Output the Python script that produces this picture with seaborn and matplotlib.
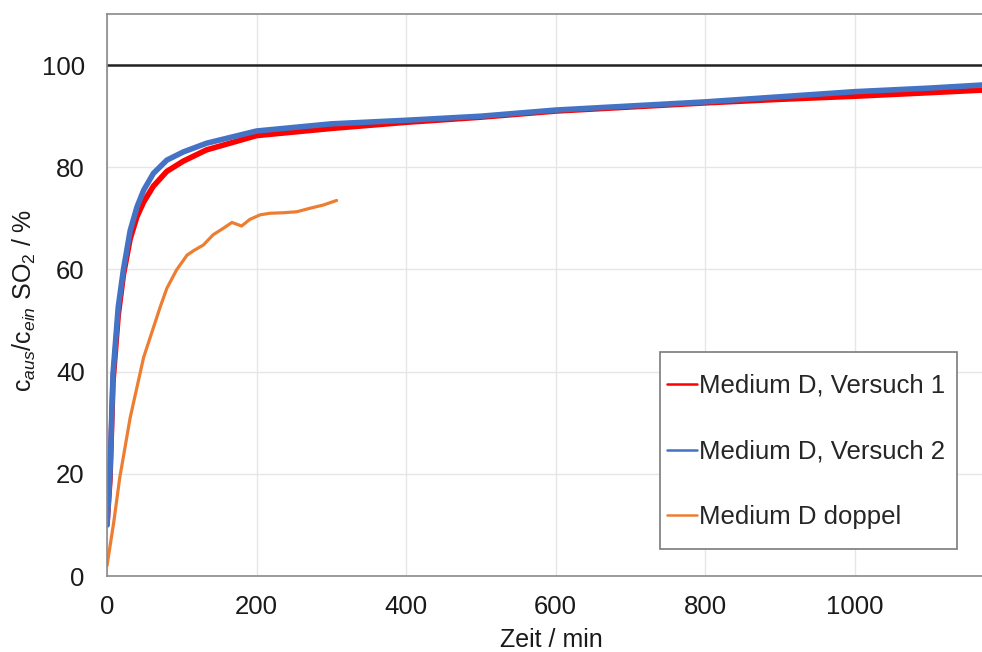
import numpy as np
import pandas as pd
import matplotlib
matplotlib.use("Agg")
import matplotlib.pyplot as plt
from matplotlib.patches import Rectangle
import seaborn as sns

# Breakthrough curves, time in min, outlet/inlet SO2 ratio in %
t_runs = [0, 4, 8, 15, 22, 31, 40, 49, 62, 80, 102, 133, 200, 300, 400,
          500, 600, 700, 800, 900, 1000, 1100, 1170]
versuch_1 = [10, 19, 38, 51, 59, 66, 70.3, 73.2, 76.3, 79.2, 81.2, 83.4, 86.2,
             87.6, 88.8, 89.8, 91.0, 91.8, 92.6, 93.3, 93.9, 94.6, 95.1]
versuch_2 = [10, 20, 39.5, 52.6, 60, 67.6, 72.2, 75.5, 78.8, 81.4, 83.0, 84.7,
             87.1, 88.5, 89.2, 90.0, 91.2, 92.0, 92.8, 93.8, 94.8, 95.5, 96.1]

t_doppel = [0, 9, 17, 31, 49, 71, 80, 93, 107, 116, 129, 142, 156, 167, 180,
            191, 205, 218, 236, 254, 272, 289, 307]
doppel = [2, 10.5, 19.2, 31, 42.8, 52.6, 56.3, 59.9, 62.8, 63.7, 64.8, 66.8,
          68.1, 69.2, 68.5, 69.8, 70.7, 71.0, 71.1, 71.3, 72.0, 72.6, 73.5]

labels = ["Medium D, Versuch 1", "Medium D, Versuch 2", "Medium D doppel"]
colors = ["#FF0000", "#4472C4", "#ED7D31"]

df = pd.concat([
    pd.DataFrame({"t": t_runs, "c": versuch_1, "serie": labels[0]}),
    pd.DataFrame({"t": t_runs, "c": versuch_2, "serie": labels[1]}),
    pd.DataFrame({"t": t_doppel, "c": doppel, "serie": labels[2]}),
])

sns.set_theme(style="white")
plt.rcParams["font.family"] = ["Liberation Sans", "DejaVu Sans"]
plt.rcParams["mathtext.fontset"] = "custom"
plt.rcParams["mathtext.rm"] = "Liberation Sans"
plt.rcParams["mathtext.it"] = "Liberation Sans:italic"

W, H = 982, 652
fig = plt.figure(figsize=(W / 100, H / 100), dpi=100)
ax = fig.add_axes([107 / W, 76 / H, 875 / W, 562 / H])

for lab, col, lw in zip(labels, colors, [4.0, 4.0, 2.3]):
    sns.lineplot(data=df[df["serie"] == lab], x="t", y="c", color=col,
                 linewidth=lw, ax=ax, label=lab, estimator=None, sort=False)

ax.axhline(100, color="#222222", linewidth=1.8, zorder=1)

ax.set_xlim(0, 1170)
ax.set_ylim(0, 110)
ax.set_xticks(np.arange(0, 1001, 200))
ax.set_yticks(np.arange(0, 101, 20))
ax.grid(True, color="#e6e6e6", linewidth=1.0)
ax.set_axisbelow(True)

for side in ["left", "bottom", "top"]:
    ax.spines[side].set_color("#8a8a8a")
    ax.spines[side].set_linewidth(1.2)
ax.spines["right"].set_visible(False)

ax.tick_params(axis="both", direction="in", length=7, width=1.0,
               color="#8a8a8a", labelsize=18.5, labelcolor="#1a1a1a")
ax.tick_params(axis="y", pad=16)
ax.tick_params(axis="x", pad=14)

ax.set_xlabel("Zeit / min", fontsize=18, color="#1a1a1a")
ax.set_ylabel(r"c$_{\mathit{aus}}$/c$_{\mathit{ein}}$ SO$_{\mathrm{2}}$ / %",
              fontsize=18, color="#1a1a1a")
ax.xaxis.set_label_coords((551 - 107) / 875, -0.092)
ax.yaxis.set_label_coords(-0.079, 0.491)

# legend frame drawn separately so its inner padding can be set per side
ax.add_patch(Rectangle((660 / W, 1 - 549 / H), 297 / W, 197 / H,
                       transform=fig.transFigure, facecolor="white",
                       edgecolor="#7a7a7a", linewidth=1.2, zorder=4,
                       clip_on=False))
leg = ax.legend(loc="upper left", bbox_to_anchor=(667 / W, 1 - 374 / H),
                bbox_transform=fig.transFigure, borderaxespad=0, borderpad=0,
                fontsize=18.5, frameon=False, handlelength=1.15,
                handletextpad=0.1, labelspacing=1.62)
leg.set_zorder(5)
for line in leg.get_lines():
    line.set_linewidth(1.8)

fig.savefig("out.png", dpi=100)
